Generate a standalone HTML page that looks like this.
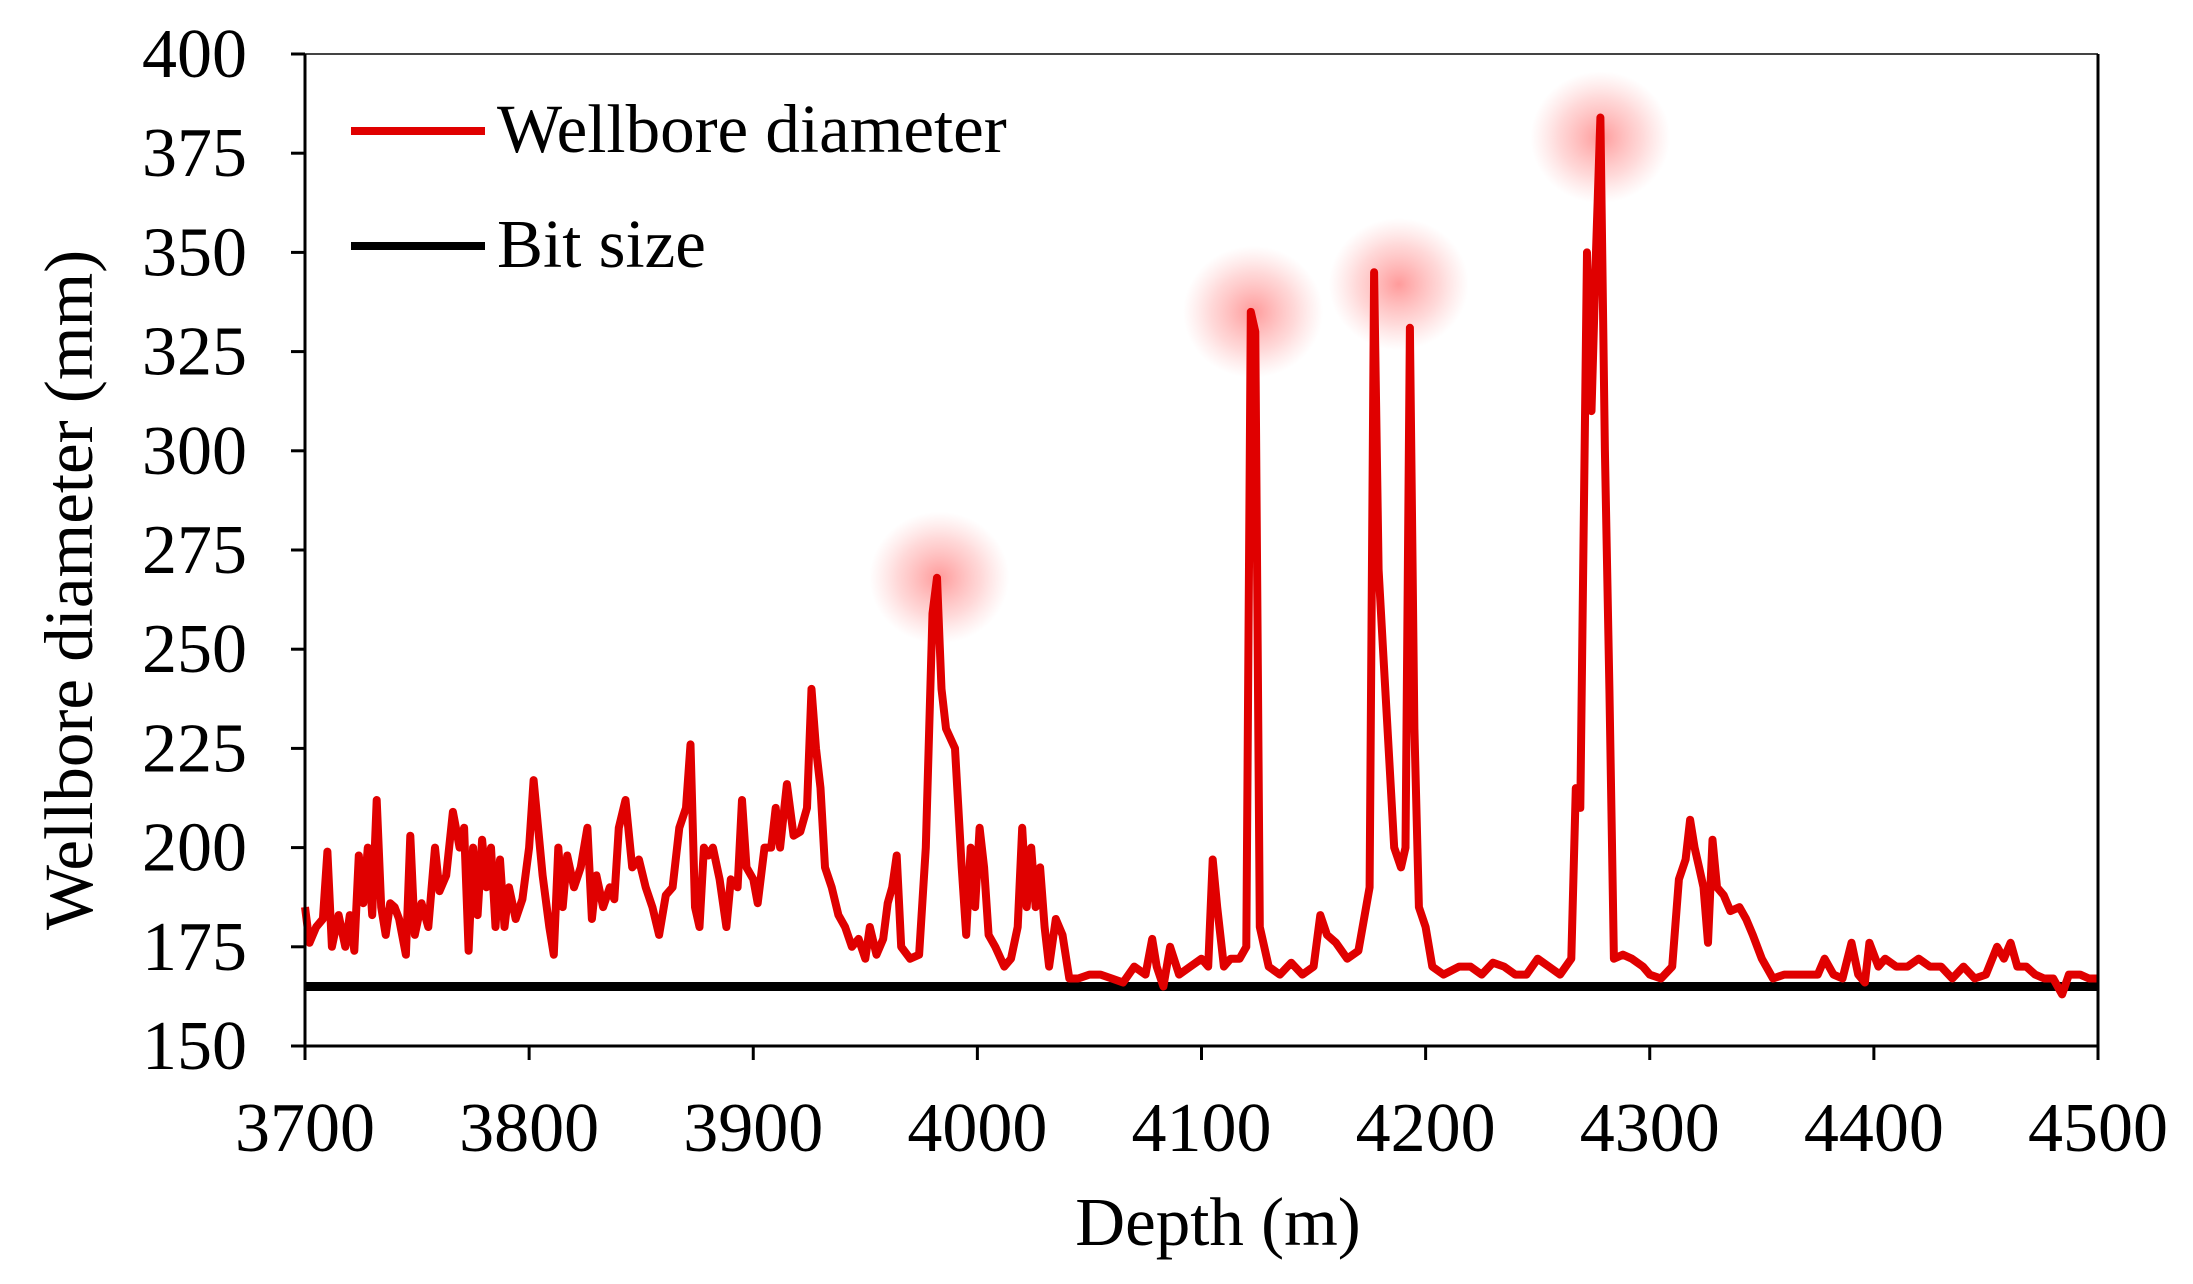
<!DOCTYPE html>
<html><head><meta charset="utf-8"><style>
html,body{margin:0;padding:0;background:#fff;}
svg{display:block;}
text{font-family:"Liberation Serif","Times New Roman",serif;fill:#000;}
</style></head><body>
<svg id="chart" width="2193" height="1284" viewBox="0 0 2193 1284" xmlns="http://www.w3.org/2000/svg">
<defs>
<radialGradient id="glow"><stop offset="0" stop-color="#ff2020" stop-opacity="0.45"/><stop offset="0.6" stop-color="#ff4040" stop-opacity="0.2"/><stop offset="1" stop-color="#ff6060" stop-opacity="0"/></radialGradient>
</defs>
<g id="glows"></g>
<g id="series"></g>
<g id="axes"></g>
<g id="legend">
<line x1="351" y1="131" x2="485" y2="131" stroke="#e00000" stroke-width="8"/>
<text x="497" y="152" font-size="69">Wellbore diameter</text>
<line x1="351" y1="246" x2="485" y2="246" stroke="#000" stroke-width="8"/>
<text x="497" y="267" font-size="69">Bit size</text>
</g>
<text x="1218" y="1245" font-size="69" text-anchor="middle">Depth (m)</text>
<text transform="translate(92,590) rotate(-90)" font-size="69" text-anchor="middle">Wellbore diameter (mm)</text>
</svg>
<script>
const depths=[3700,3702,3705,3708,3710,3712,3715,3718,3720,3722,3724,3726,3728,3730,3732,3734,3736,3738,3740,3742,3745,3747,3749,3752,3755,3758,3760,3763,3766,3769,3771,3773,3775,3777,3779,3781,3783,3785,3787,3789,3791,3794,3797,3800,3802,3804,3806,3809,3811,3813,3815,3817,3820,3823,3826,3828,3830,3833,3836,3838,3840,3843,3846,3849,3852,3855,3858,3861,3864,3867,3870,3872,3874,3876,3878,3880,3882,3885,3888,3890,3893,3895,3897,3900,3902,3905,3908,3910,3912,3915,3918,3921,3924,3926,3928,3930,3932,3935,3938,3941,3944,3947,3950,3952,3955,3958,3960,3962,3964,3966,3970,3974,3977,3980,3982,3984,3986,3990,3993,3995,3997,3999,4001,4003,4005,4008,4012,4015,4018,4020,4022,4024,4026,4028,4030,4032,4035,4038,4041,4045,4050,4055,4060,4065,4070,4075,4078,4080,4083,4086,4090,4095,4100,4103,4105,4107,4110,4113,4117,4120,4122,4124,4126,4130,4135,4140,4145,4150,4153,4156,4160,4165,4170,4175,4177,4179,4181,4183,4186,4189,4191,4193,4195,4197,4200,4203,4208,4215,4220,4225,4230,4235,4240,4245,4250,4255,4260,4265,4267,4269,4272,4274,4276,4278,4280,4282,4284,4288,4292,4297,4300,4305,4310,4313,4316,4318,4320,4322,4324,4326,4328,4330,4333,4336,4340,4343,4346,4350,4355,4360,4365,4370,4375,4378,4382,4386,4390,4393,4396,4398,4402,4405,4410,4415,4420,4425,4430,4435,4440,4445,4450,4455,4458,4461,4464,4468,4472,4476,4480,4484,4487,4492,4496,4500];
const diameters=[185,176,180,182,199,175,183,175,183,174,198,186,200,183,212,185,178,186,185,182,173,203,178,186,180,200,189,193,209,200,205,174,200,183,202,190,200,180,197,180,190,182,187,200,217,205,193,180,173,200,185,198,190,195,205,182,193,185,190,187,205,212,195,197,190,185,178,188,190,205,210,226,185,180,200,198,200,192,180,192,190,212,195,192,186,200,200,210,200,216,203,204,210,240,225,215,195,190,183,180,175,177,172,180,173,177,186,190,198,175,172,173,200,259,268,240,230,225,195,178,200,185,205,195,178,175,170,172,180,205,185,200,185,195,180,170,182,178,167,167,168,168,167,166,170,168,177,170,165,175,168,170,172,170,197,185,170,172,172,175,335,330,180,170,168,171,168,170,183,178,176,172,174,190,345,270,250,230,200,195,200,331,230,185,180,170,168,170,170,168,171,170,168,168,172,170,168,172,215,210,350,310,350,384,300,240,172,173,172,170,168,167,170,192,197,207,200,195,190,176,202,190,188,184,185,182,178,172,167,168,168,168,168,172,168,167,176,168,166,176,170,172,170,170,172,170,170,167,170,167,168,175,172,176,170,170,168,167,167,163,168,168,167,167];
const bitSize=[165];
const xTicks=[3700,3800,3900,4000,4100,4200,4300,4400,4500];
const yTicks=[150,175,200,225,250,275,300,325,350,375,400];
const glowDepths=[3983,4123,4188,4278];
const glowValues=[268,335,342,379];

const L=305,R=2098,T=54,B=1046;
const sx=d=>L+(d-3700)/800*(R-L);
const sy=v=>B-(v-150)/250*(B-T);
const NS='http://www.w3.org/2000/svg';
function mk(tag,attrs,parent){const e=document.createElementNS(NS,tag);for(const k in attrs)e.setAttribute(k,attrs[k]);parent.appendChild(e);return e;}

const gl=document.getElementById('glows');
glowDepths.forEach((d,i)=>{
  const c=mk('ellipse',{cx:sx(d),cy:sy(glowValues[i]),rx:70,ry:66,fill:'url(#glow)'},gl);
  
  
});

const sg=document.getElementById('series');
const bl=mk('line',{x1:L,x2:R,y1:sy(bitSize[0]),y2:sy(bitSize[0]),stroke:'#000','stroke-width':9},sg);


const pts=depths.map((d,i)=>sx(d).toFixed(1)+','+sy(diameters[i]).toFixed(1)).join(' ');
const pl=mk('polyline',{points:pts,fill:'none',stroke:'#e00000','stroke-width':8,'stroke-linejoin':'round'},sg);



const ax=document.getElementById('axes');
const fr=mk('line',{x1:L,y1:T,x2:R,y2:T,stroke:'#444','stroke-width':2},ax);


const rr=mk('line',{x1:R,y1:T,x2:R,y2:B,stroke:'#000','stroke-width':3},ax);


const ya=mk('line',{x1:L,y1:T,x2:L,y2:B,stroke:'#000','stroke-width':3},ax);


const xa=mk('line',{x1:L,y1:B,x2:R,y2:B,stroke:'#000','stroke-width':3},ax);


yTicks.forEach(v=>{
  const t=mk('line',{x1:L-14,x2:L,y1:sy(v),y2:sy(v),stroke:'#000','stroke-width':3},ax);
  
  
  const tx=mk('text',{x:L-58,y:sy(v)+23,'font-size':70,'text-anchor':'end'},ax);
  tx.textContent=v;
  
  
});
xTicks.forEach(d=>{
  const t=mk('line',{x1:sx(d),x2:sx(d),y1:B,y2:B+14,stroke:'#000','stroke-width':3},ax);
  
  
  const tx=mk('text',{x:sx(d),y:B+105,'font-size':70,'text-anchor':'middle'},ax);
  tx.textContent=d;
  
  
});
</script>
</body></html>
